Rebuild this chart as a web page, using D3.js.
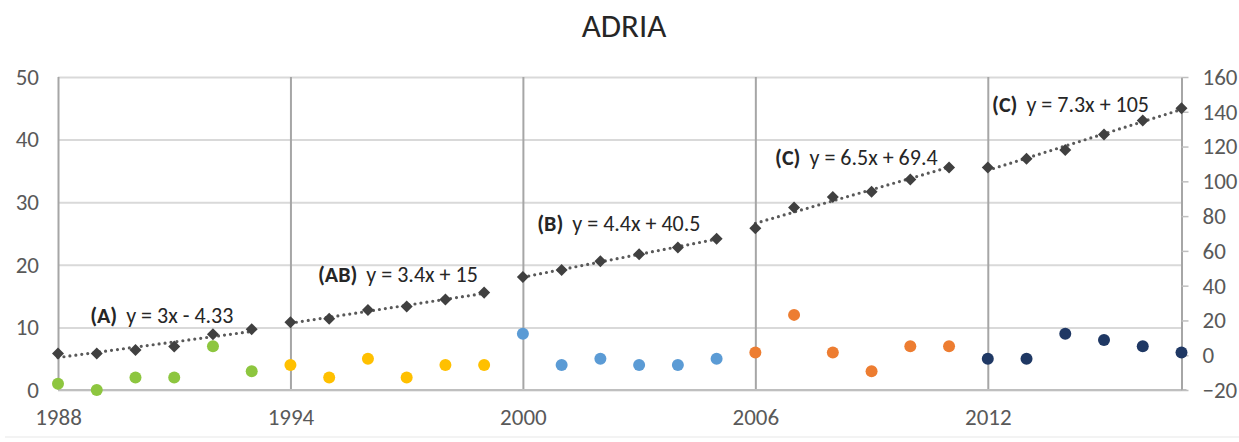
<!DOCTYPE html>
<html>
<head>
<meta charset="utf-8">
<script src="https://cdn.jsdelivr.net/npm/d3@7/dist/d3.min.js"></script>
<style>
  html, body { margin: 0; padding: 0; background: #fff; }
  svg { display: block; }
  text { font-family: Carlito, Calibri, Lato, "Open Sans", sans-serif; }
</style>
</head>
<body>
<svg id="chart" width="1239" height="442"></svg>
<script>
// ---------- data ----------
const title = "ADRIA";
const years = [1988,1989,1990,1991,1992,1993,1994,1995,1996,1997,1998,1999,2000,2001,2002,2003,2004,2005,2006,2007,2008,2009,2010,2011,2012,2013,2014,2015,2016,2017];
// annual values (left axis, circles)
const annual = [1,0,2,2,7,3, 4,2,5,2,4,4, 9,4,5,4,4,5, 6,12,6,3,7,7, 5,5,9,8,7,6];
// cumulative values (right axis, diamonds)
const cumulative = [1,1,3,5,12,15, 19,21,26,28,32,36, 45,49,54,58,62,67, 73,85,91,94,101,108, 108,113,118,127,135,142];
// period of each year
const period = ["A","A","A","A","A","A","AB","AB","AB","AB","AB","AB","B","B","B","B","B","B","C1","C1","C1","C1","C1","C1","C2","C2","C2","C2","C2","C2"];
const periodKeys = ["A","AB","B","C1","C2"];
const periodColors = ["#8DC63F","#FFC000","#5B9BD5","#ED7D31","#1F3864"];
const periodTags = ["(A)","(AB)","(B)","(C)","(C)"];
const periodEquations = ["y = 3x - 4.33","y = 3.4x + 15","y = 4.4x + 40.5","y = 6.5x + 69.4","y = 7.3x + 105"];
// label anchors in data units (year, right-axis value)
const labelYear = [1988.83, 1994.71, 2000.37, 2006.51, 2012.11];
const labelValue = [18.5, 42.1, 71.4, 109.4, 139.9];
const xTicks = [1988,1994,2000,2006,2012];
const yLeftTicks = [0,10,20,30,40,50];
const yRightTicks = [-20,0,20,40,60,80,100,120,140,160];

// ---------- layout ----------
const FONT = "Carlito, Calibri, Lato, 'Open Sans', sans-serif";
const svg = d3.select("#chart");
const L = 58, R = 1181.5, T = 77, B = 390;
const x = d3.scaleLinear().domain([1988, 2017]).range([L, R]);
const yL = d3.scaleLinear().domain([0, 50]).range([B, T]);
const yR = d3.scaleLinear().domain([-20, 160]).range([B, T]);

// faint chart border line at bottom
svg.append("line").attr("x1", 5).attr("x2", 1239).attr("y1", 437).attr("y2", 437)
  .attr("stroke", "#efefef").attr("stroke-width", 1.5);

// title
svg.append("text").attr("x", 624).attr("y", 37).attr("text-anchor", "middle")
  .attr("font-size", 33).attr("fill", "#262626").text(title);

// horizontal gridlines (left axis)
const gH = svg.append("g")
  .attr("transform", `translate(${L},0)`)
  .call(d3.axisLeft(yL).tickValues(yLeftTicks).tickSize(-(R - L)).tickFormat(""));
gH.select(".domain").remove();
gH.selectAll("line").attr("stroke", "#d9d9d9").attr("stroke-width", 2);

// vertical gridlines
const gV = svg.append("g")
  .attr("transform", `translate(0,${B})`)
  .call(d3.axisBottom(x).tickValues(xTicks).tickSize(-(B - T)).tickFormat(""));
gV.select(".domain").remove();
gV.selectAll("line").attr("stroke", "#a6a6a6").attr("stroke-width", 2);

// bottom axis line
svg.append("line").attr("x1", L).attr("x2", R + 5).attr("y1", B).attr("y2", B)
  .attr("stroke", "#bfbfbf").attr("stroke-width", 2);

// left axis labels
const gL = svg.append("g")
  .attr("transform", `translate(${L},0)`)
  .call(d3.axisLeft(yL).tickValues(yLeftTicks).tickSize(0).tickPadding(19).tickFormat(d3.format("d")));
gL.select(".domain").remove();
gL.selectAll("text").attr("font-size", 23).attr("fill", "#595959").style("font-family", FONT);

// bottom axis labels
const gB = svg.append("g")
  .attr("transform", `translate(0,${B})`)
  .call(d3.axisBottom(x).tickValues(xTicks).tickSize(0).tickPadding(19).tickFormat(d3.format("d")));
gB.select(".domain").remove();
gB.selectAll("text").attr("font-size", 23).attr("fill", "#595959").style("font-family", FONT);

// right axis
const gR = svg.append("g")
  .attr("transform", `translate(${R},0)`)
  .call(d3.axisRight(yR).tickValues(yRightTicks).tickSize(7).tickPadding(14).tickFormat(d3.format("d")).tickSizeOuter(0));
gR.select(".domain").attr("stroke", "#a6a6a6").attr("stroke-width", 2);
gR.selectAll("line").attr("stroke", "#bfbfbf").attr("stroke-width", 1.5);
gR.selectAll("text").attr("font-size", 23).attr("fill", "#595959").style("font-family", FONT);

// data rows
const rows = years.map((yr, i) => ({ year: yr, annual: annual[i], cum: cumulative[i], period: period[i] }));
const color = d3.scaleOrdinal().domain(periodKeys).range(periodColors);

// trend lines (least squares per period, on cumulative)
const line = d3.line().x(d => x(d[0])).y(d => yR(d[1]));
periodKeys.forEach(k => {
  const pts = rows.filter(r => r.period === k);
  const n = pts.length;
  const xs = pts.map((p, i) => i + 1);
  const mx = d3.mean(xs), my = d3.mean(pts, p => p.cum);
  const sxy = d3.sum(pts, (p, i) => (xs[i] - mx) * (p.cum - my));
  const sxx = d3.sum(xs, v => (v - mx) * (v - mx));
  const slope = sxy / sxx, icpt = my - slope * mx;
  const seg = [[pts[0].year, icpt + slope * 1], [pts[n - 1].year, icpt + slope * n]];
  svg.append("path").attr("d", line(seg))
    .attr("fill", "none").attr("stroke", "#595959").attr("stroke-width", 3.2)
    .attr("stroke-linecap", "round").attr("stroke-dasharray", "0 6");
});

// annual circles
svg.append("g").selectAll("circle").data(rows).join("circle")
  .attr("cx", d => x(d.year)).attr("cy", d => yL(d.annual)).attr("r", 6)
  .attr("fill", d => color(d.period));

// cumulative diamonds
const diamond = d3.symbol().type(d3.symbolDiamond2).size(92);
svg.append("g").selectAll("path").data(rows).join("path")
  .attr("transform", d => `translate(${x(d.year)},${yR(d.cum)})`)
  .attr("d", diamond).attr("fill", "#404040");

// equation labels
periodKeys.forEach((k, i) => {
  const t = svg.append("text")
    .attr("x", x(labelYear[i])).attr("y", yR(labelValue[i]))
    .attr("font-size", 22).attr("fill", "#262626");
  t.append("tspan").attr("font-weight", "bold").text(periodTags[i]);
  t.append("tspan").attr("dx", 9).text(periodEquations[i]);
});
</script>
</body>
</html>
